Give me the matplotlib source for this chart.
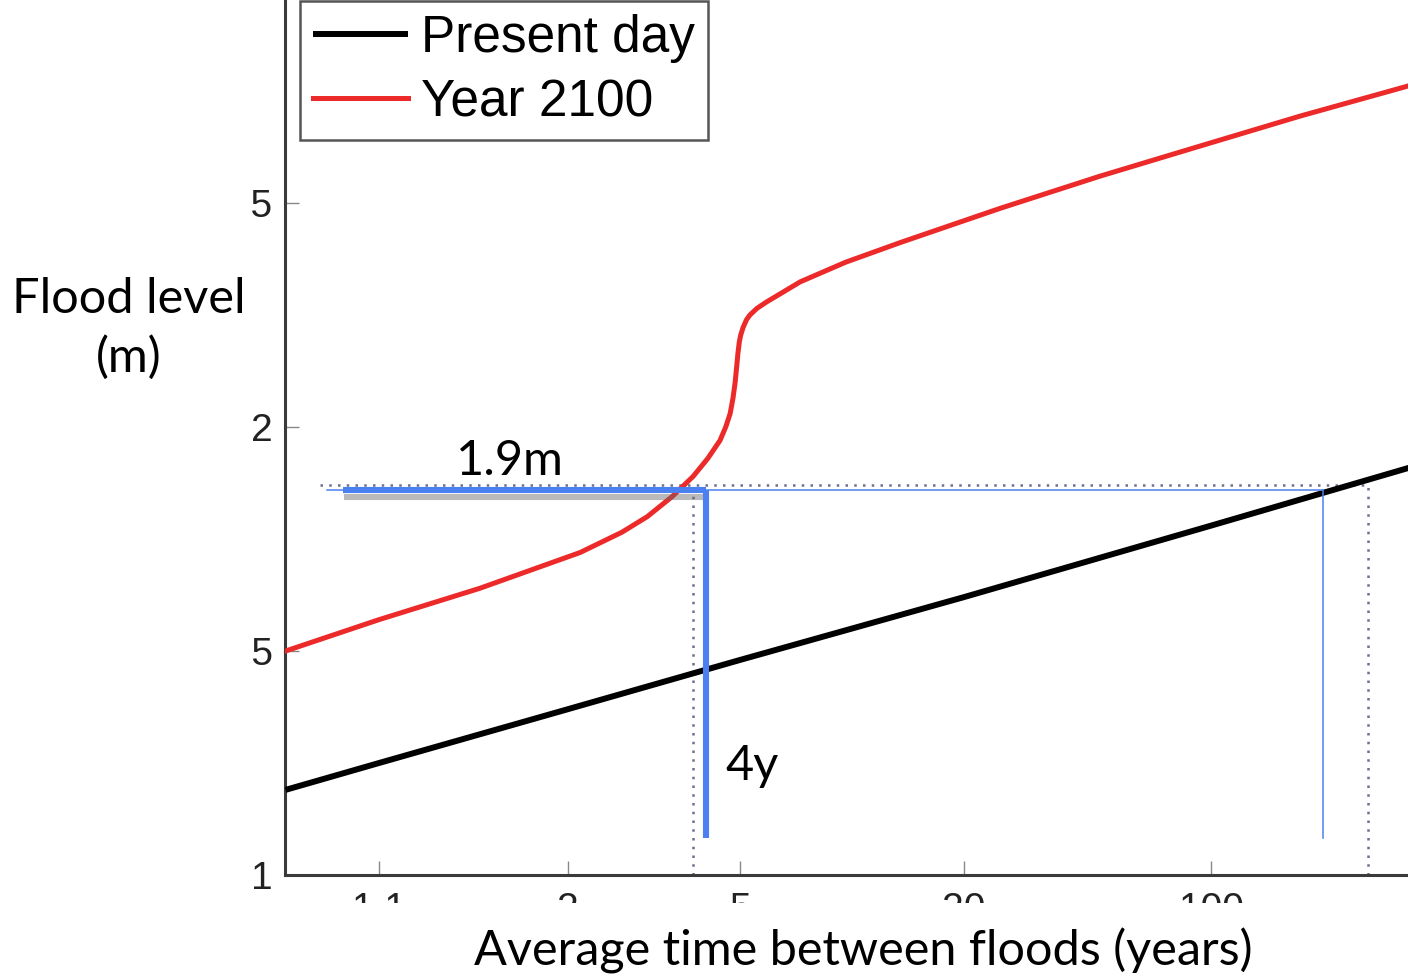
import numpy as np
import matplotlib
matplotlib.use("Agg")
import matplotlib.pyplot as plt
import matplotlib.patheffects as pe
from matplotlib.patches import Rectangle
from matplotlib.ticker import FixedLocator, NullLocator

# Return period (years) vs flood level (m)
present_period = [1.012, 1.1, 2, 5, 20, 100, 500]
present_level = [1.19, 1.25, 1.37, 1.48, 1.62, 1.78, 1.94]

future_period = [1.012, 1.10, 1.41, 2.12, 2.60, 2.97, 3.40, 3.82, 4.15, 4.45,
                 4.60, 4.72, 4.80, 4.86, 4.91, 4.94, 4.98, 5.02, 5.09, 5.20,
                 5.30, 5.53, 5.85, 6.23, 7.17, 9.5, 13.4, 25.3, 48.4, 92.8,
                 179, 363, 500]
future_level = [1.50, 1.57, 1.64, 1.72, 1.765, 1.80, 1.845, 1.89, 1.93, 1.97,
                2.00, 2.03, 2.065, 2.10, 2.14, 2.165, 2.19, 2.205, 2.222, 2.24,
                2.25, 2.265, 2.279, 2.293, 2.324, 2.368, 2.412, 2.488, 2.56,
                2.627, 2.694, 2.761, 2.79]

# dotted guide lines of the original plot
guide_level = 1.87
guide_periods = [3.82, 280]

# hand-drawn markers: new return period for today's 200-year flood level
marker_level = 1.86
marker_new_period = 4.1
marker_old_period = 208
marker_bottom = 1.083

x_ticks = [1.1, 2, 5, 20, 100]
x_tick_labels = ["1.1", "2", "5", "20", "100"]
y_ticks = [1, 1.5, 2, 2.5]
y_tick_labels = ["1", "1.5", "2", "2.5"]


def gumbel(T):
    T = np.asarray(T, dtype=float)
    with np.errstate(all="ignore"):
        return -np.log(-np.log(1.0 - 1.0 / T))


def gumbel_inv(u):
    u = np.asarray(u, dtype=float)
    with np.errstate(all="ignore"):
        return 1.0 / (1.0 - np.exp(-np.exp(-u)))


W, H = 1408, 976
fig = plt.figure(figsize=(W / 100, H / 100), dpi=100)
ax = fig.add_axes([285 / W, 101 / H, 1277 / W, 896 / H])

ax.set_xscale("function", functions=(gumbel, gumbel_inv))
ax.set_xlim(1.0118, 1000)
ax.set_ylim(1, 3)

blue = "#4a80f0"
dot_col = "#6a7190"

# original dotted guides
ax.plot([1.03, guide_periods[1]], [guide_level, guide_level], ls=(0, (1, 2.5)),
        color=dot_col, lw=1.8, zorder=2)
for p in guide_periods:
    ax.plot([p, p], [1.0, guide_level], ls=(0, (1, 2.5)), color=dot_col,
            lw=1.8, zorder=2)

l1, = ax.plot(present_period, present_level, color="black", lw=4.3,
              solid_capstyle="butt", zorder=3, label="Present day")
l2, = ax.plot(future_period, future_level, color="#ec2a2a", lw=3.6,
              solid_joinstyle="round", zorder=3, label="Year 2100")

# annotation lines
shadow = [pe.SimpleLineShadow(offset=(1, -5), shadow_color="0.4", alpha=0.45),
          pe.Normal()]
ax.plot([1.035, marker_old_period], [marker_level, marker_level], color=blue,
        lw=1.1, zorder=4)
ax.plot([marker_old_period, marker_old_period], [marker_level, marker_bottom],
        color=blue, lw=1.1, zorder=4)
ax.plot([1.05, marker_new_period], [marker_level, marker_level], color=blue,
        lw=4.4, solid_capstyle="butt", zorder=5, path_effects=shadow)
ax.plot([marker_new_period, marker_new_period], [marker_level, marker_bottom],
        color=blue, lw=4.4, solid_capstyle="butt", zorder=5)

for side in ("left", "bottom", "top", "right"):
    ax.spines[side].set_color("#3a3a3a")
    ax.spines[side].set_linewidth(2.2)

ax.xaxis.set_major_locator(FixedLocator(x_ticks))
ax.xaxis.set_minor_locator(NullLocator())
ax.set_xticklabels(x_tick_labels)
ax.set_yticks(y_ticks)
ax.set_yticklabels(y_tick_labels)
ax.tick_params(direction="in", length=10, width=1.0, color="#888888",
               labelsize=28, labelcolor="#222222")
ax.tick_params(axis="y", pad=9)
ax.tick_params(axis="x", pad=12)
for lab in ax.get_xticklabels() + ax.get_yticklabels():
    lab.set_family("Liberation Sans")

leg = ax.legend(handles=[l1, l2], loc="lower left",
                bbox_to_anchor=(300 / W, 1 - 140 / H),
                bbox_transform=fig.transFigure,
                prop={"family": "Liberation Sans", "size": 37},
                handlelength=1.85, handletextpad=0.25, borderpad=0.25,
                labelspacing=0.3, borderaxespad=0, fancybox=False,
                framealpha=1, edgecolor="#555555")
leg.get_frame().set_linewidth(1.8)
leg.set_zorder(10)

# slide text boxes drawn over the plot edges
fig.patches.append(Rectangle((0, 0), 1, 73 / H, transform=fig.transFigure,
                             facecolor="white", edgecolor="none", zorder=5))
fig.patches.append(Rectangle((0, 1 - 700 / H), 248 / W, 530 / H,
                             transform=fig.transFigure, facecolor="white",
                             edgecolor="none", zorder=5))

slide_font = dict(family="Lato", fontsize=35, color="black", zorder=6)
fig.text(129 / W, 1 - 313 / H, "Flood level", ha="center", va="baseline",
         **slide_font)
fig.text(129 / W, 1 - 372 / H, "(m)", ha="center", va="baseline", **slide_font)
fig.text(863 / W, 1 - 966 / H, "Average time between floods (years)",
         ha="center", va="baseline", **slide_font)
fig.text(510 / W, 1 - 475 / H, f"{marker_level:.1f}m", ha="center",
         va="baseline", **slide_font)
fig.text(725 / W, 1 - 780 / H, f"{marker_new_period:.0f}y", ha="left",
         va="baseline", **slide_font)

fig.savefig("out.png", dpi=100)
